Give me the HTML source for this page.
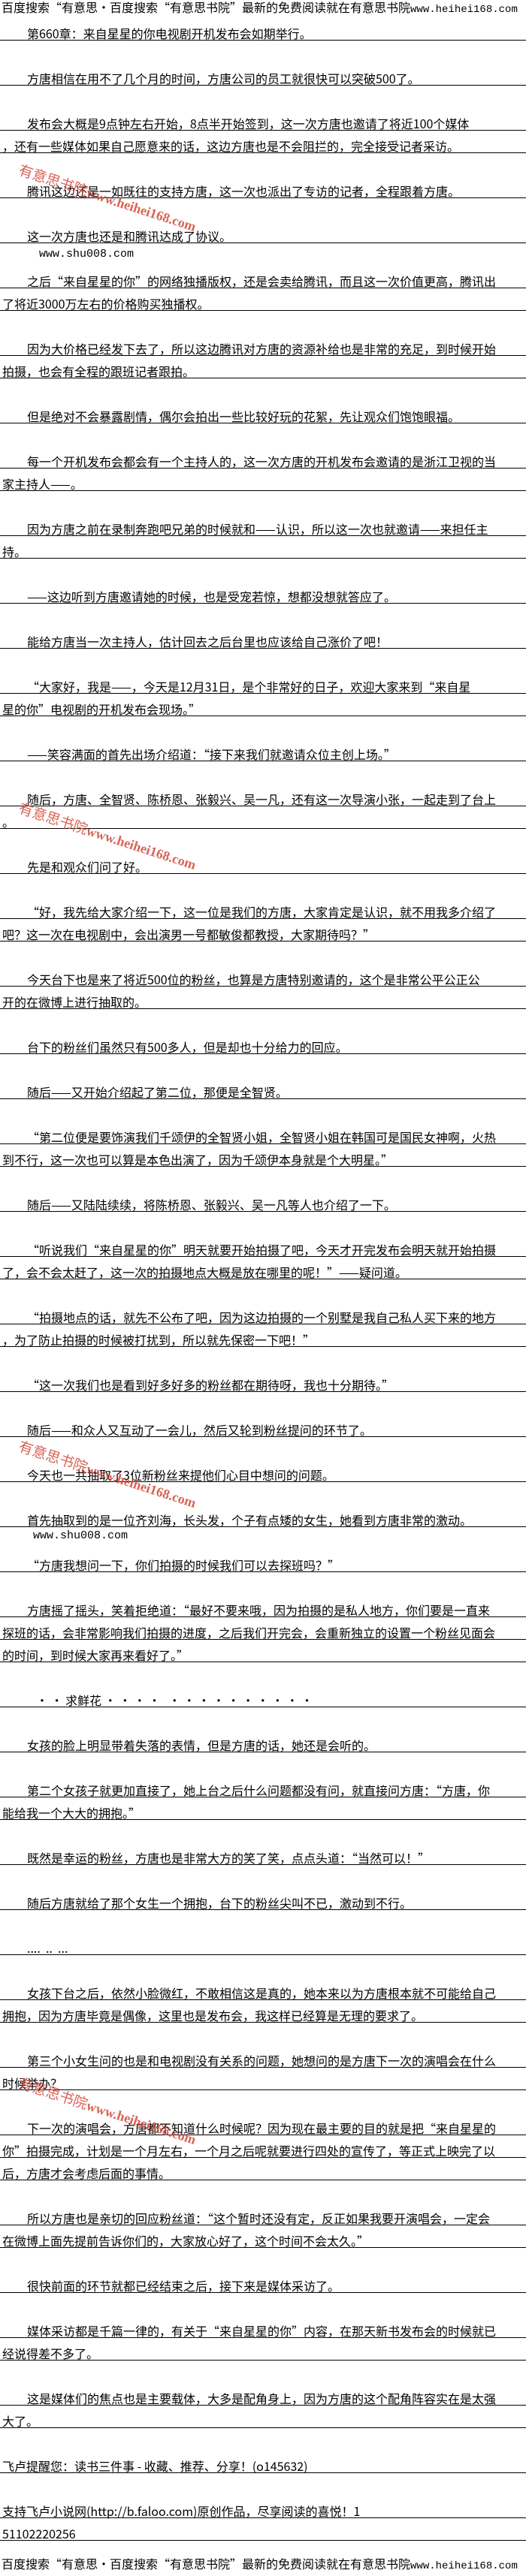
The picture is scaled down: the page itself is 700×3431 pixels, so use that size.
<!DOCTYPE html>
<html><head><meta charset="utf-8">
<style>
html,body{margin:0;padding:0;background:#fff;}
body{width:700px;height:3431px;position:relative;overflow:hidden;font-family:"Noto Sans CJK SC","Liberation Sans",sans-serif;color:#000;}
.r{position:absolute;left:0;width:700px;height:18px;border-bottom:1px solid #000;font-size:16px;line-height:18px;white-space:nowrap;box-sizing:content-box;padding-left:3px;}
.i{padding-left:36px;}
.hd{position:absolute;left:2px;font-size:16px;line-height:18px;white-space:nowrap;}
.hd span{font-family:"Liberation Mono",monospace;font-size:14px;}
.shu{position:absolute;font-family:"Liberation Mono",monospace;font-size:15px;white-space:nowrap;}
.wm{position:absolute;transform:rotate(18deg);transform-origin:0 0;color:#d24a3a;opacity:.85;white-space:nowrap;font-size:19px;}
.wm span{font-family:"Liberation Serif",serif;font-weight:bold;font-size:18px;}
</style></head><body>
<div class="hd" style="top:0">百度搜索“有意思·百度搜索“有意思书院”最新的免费阅读就在有意思书院<span>www.heihei168.com</span></div>

<div class="r i" style="top:35px">第660章：来自星星的你电视剧开机发布会如期举行。</div>
<div class="r i" style="top:95px">方唐相信在用不了几个月的时间，方唐公司的员工就很快可以突破500了。</div>
<div class="r i" style="top:155px">发布会大概是9点钟左右开始，8点半开始签到，这一次方唐也邀请了将近100个媒体</div>
<div class="r" style="top:185px">，还有一些媒体如果自己愿意来的话，这边方唐也是不会阻拦的，完全接受记者采访。</div>
<div class="r i" style="top:245px">腾讯这边还是一如既往的支持方唐，这一次也派出了专访的记者，全程跟着方唐。</div>
<div class="r i" style="top:305px">这一次方唐也还是和腾讯达成了协议。</div>
<div class="shu" style="left:52px;top:330px">www.shu008.com</div>
<div class="r i" style="top:365px">之后“来自星星的你”的网络独播版权，还是会卖给腾讯，而且这一次价值更高，腾讯出</div>
<div class="r" style="top:395px">了将近3000万左右的价格购买独播权。</div>
<div class="r i" style="top:455px">因为大价格已经发下去了，所以这边腾讯对方唐的资源补给也是非常的充足，到时候开始</div>
<div class="r" style="top:485px">拍摄，也会有全程的跟班记者跟拍。</div>
<div class="r i" style="top:545px">但是绝对不会暴露剧情，偶尔会拍出一些比较好玩的花絮，先让观众们饱饱眼福。</div>
<div class="r i" style="top:605px">每一个开机发布会都会有一个主持人的，这一次方唐的开机发布会邀请的是浙江卫视的当</div>
<div class="r" style="top:635px">家主持人——。</div>
<div class="r i" style="top:695px">因为方唐之前在录制奔跑吧兄弟的时候就和——认识，所以这一次也就邀请——来担任主</div>
<div class="r" style="top:725px">持。</div>
<div class="r i" style="top:785px">——这边听到方唐邀请她的时候，也是受宠若惊，想都没想就答应了。</div>
<div class="r i" style="top:845px">能给方唐当一次主持人，估计回去之后台里也应该给自己涨价了吧！</div>
<div class="r i" style="top:905px">“大家好，我是——，今天是12月31日，是个非常好的日子，欢迎大家来到“来自星</div>
<div class="r" style="top:935px">星的你”电视剧的开机发布会现场。”</div>
<div class="r i" style="top:995px">——笑容满面的首先出场介绍道：“接下来我们就邀请众位主创上场。”</div>
<div class="r i" style="top:1055px">随后，方唐、全智贤、陈桥恩、张毅兴、吴一凡，还有这一次导演小张，一起走到了台上</div>
<div class="r" style="top:1085px">。</div>
<div class="r i" style="top:1145px">先是和观众们问了好。</div>
<div class="r i" style="top:1205px">“好，我先给大家介绍一下，这一位是我们的方唐，大家肯定是认识，就不用我多介绍了</div>
<div class="r" style="top:1235px">吧？这一次在电视剧中，会出演男一号都敏俊都教授，大家期待吗？”</div>
<div class="r i" style="top:1295px">今天台下也是来了将近500位的粉丝，也算是方唐特别邀请的，这个是非常公平公正公</div>
<div class="r" style="top:1325px">开的在微博上进行抽取的。</div>
<div class="r i" style="top:1385px">台下的粉丝们虽然只有500多人，但是却也十分给力的回应。</div>
<div class="r i" style="top:1445px">随后——又开始介绍起了第二位，那便是全智贤。</div>
<div class="r i" style="top:1505px">“第二位便是要饰演我们千颂伊的全智贤小姐，全智贤小姐在韩国可是国民女神啊，火热</div>
<div class="r" style="top:1535px">到不行，这一次也可以算是本色出演了，因为千颂伊本身就是个大明星。”</div>
<div class="r i" style="top:1595px">随后——又陆陆续续，将陈桥恩、张毅兴、吴一凡等人也介绍了一下。</div>
<div class="r i" style="top:1655px">“听说我们“来自星星的你”明天就要开始拍摄了吧，今天才开完发布会明天就开始拍摄</div>
<div class="r" style="top:1685px">了，会不会太赶了，这一次的拍摄地点大概是放在哪里的呢！”——疑问道。</div>
<div class="r i" style="top:1745px">“拍摄地点的话，就先不公布了吧，因为这边拍摄的一个别墅是我自己私人买下来的地方</div>
<div class="r" style="top:1775px">，为了防止拍摄的时候被打扰到，所以就先保密一下吧！”</div>
<div class="r i" style="top:1835px">“这一次我们也是看到好多好多的粉丝都在期待呀，我也十分期待。”</div>
<div class="r i" style="top:1895px">随后——和众人又互动了一会儿，然后又轮到粉丝提问的环节了。</div>
<div class="r i" style="top:1955px">今天也一共抽取了3位新粉丝来提他们心目中想问的问题。</div>
<div class="r i" style="top:2015px">首先抽取到的是一位齐刘海，长头发，个子有点矮的女生，她看到方唐非常的激动。</div>
<div class="shu" style="left:44px;top:2037px">www.shu008.com</div>
<div class="r i" style="top:2075px">“方唐我想问一下，你们拍摄的时候我们可以去探班吗？”</div>
<div class="r i" style="top:2135px">方唐摇了摇头，笑着拒绝道：“最好不要来哦，因为拍摄的是私人地方，你们要是一直来</div>
<div class="r" style="top:2165px">探班的话，会非常影响我们拍摄的进度，之后我们开完会，会重新独立的设置一个粉丝见面会</div>
<div class="r" style="top:2195px">的时间，到时候大家再来看好了。”</div>
<div class="r" style="top:2255px;padding-left:48px">· · 求鲜花 · · · · &nbsp; · · · · · · · · · ·</div>
<div class="r i" style="top:2315px">女孩的脸上明显带着失落的表情，但是方唐的话，她还是会听的。</div>
<div class="r i" style="top:2375px">第二个女孩子就更加直接了，她上台之后什么问题都没有问，就直接问方唐：“方唐，你</div>
<div class="r" style="top:2405px">能给我一个大大的拥抱。”</div>
<div class="r i" style="top:2465px">既然是幸运的粉丝，方唐也是非常大方的笑了笑，点点头道：“当然可以！”</div>
<div class="r i" style="top:2525px">随后方唐就给了那个女生一个拥抱，台下的粉丝尖叫不已，激动到不行。</div>
<div class="r i" style="top:2585px">....&nbsp;&nbsp;..&nbsp;&nbsp;...</div>
<div class="r i" style="top:2645px">女孩下台之后，依然小脸微红，不敢相信这是真的，她本来以为方唐根本就不可能给自己</div>
<div class="r" style="top:2675px">拥抱，因为方唐毕竟是偶像，这里也是发布会，我这样已经算是无理的要求了。</div>
<div class="r i" style="top:2735px">第三个小女生问的也是和电视剧没有关系的问题，她想问的是方唐下一次的演唱会在什么</div>
<div class="r" style="top:2765px">时候举办？</div>
<div class="r i" style="top:2825px">下一次的演唱会，方唐都不知道什么时候呢？因为现在最主要的目的就是把“来自星星的</div>
<div class="r" style="top:2855px">你”拍摄完成，计划是一个月左右，一个月之后呢就要进行四处的宣传了，等正式上映完了以</div>
<div class="r" style="top:2885px">后，方唐才会考虑后面的事情。</div>
<div class="r i" style="top:2945px">所以方唐也是亲切的回应粉丝道：“这个暂时还没有定，反正如果我要开演唱会，一定会</div>
<div class="r" style="top:2975px">在微博上面先提前告诉你们的，大家放心好了，这个时间不会太久。”</div>
<div class="r i" style="top:3035px">很快前面的环节就都已经结束之后，接下来是媒体采访了。</div>
<div class="r i" style="top:3095px">媒体采访都是千篇一律的，有关于“来自星星的你”内容，在那天新书发布会的时候就已</div>
<div class="r" style="top:3125px">经说得差不多了。</div>
<div class="r i" style="top:3185px">这是媒体们的焦点也是主要载体，大多是配角身上，因为方唐的这个配角阵容实在是太强</div>
<div class="r" style="top:3215px">大了。</div>
<div class="r" style="top:3275px">飞卢提醒您：读书三件事 - 收藏、推荐、分享！(o145632)</div>
<div class="r" style="top:3335px">支持飞卢小说网(http://b.faloo.com)原创作品，尽享阅读的喜悦！1</div>
<div class="r" style="top:3365px">51102220256</div>
<div class="hd" style="top:3405px">百度搜索“有意思·百度搜索“有意思书院”最新的免费阅读就在有意思书院<span>www.heihei168.com</span></div>

<div class="wm" style="left:30px;top:212px">有意思书院<span>www.heihei168.com</span></div>
<div class="wm" style="left:30px;top:1062px">有意思书院<span>www.heihei168.com</span></div>
<div class="wm" style="left:30px;top:1912px">有意思书院<span>www.heihei168.com</span></div>
<div class="wm" style="left:30px;top:2760px">有意思书院<span>www.heihei168.com</span></div>
</body></html>
